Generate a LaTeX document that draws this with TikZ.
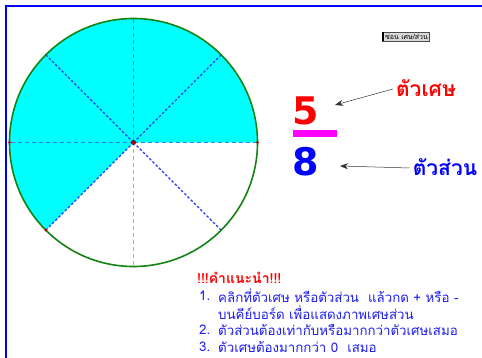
\documentclass[tikz,border=0pt]{standalone}
\usepackage{fontspec}
\setmainfont{DejaVu Sans}
\newfontfamily\thai[Script=Thai]{Loma}
\usetikzlibrary{arrows.meta,calc}
\definecolor{frameblue}{RGB}{0,0,255}
\definecolor{circgreen}{RGB}{20,130,20}
\definecolor{fillcyan}{RGB}{0,255,255}
\definecolor{dashA}{RGB}{40,130,255}
\definecolor{dashB}{RGB}{40,50,255}
\definecolor{dashC}{RGB}{165,165,255}
\definecolor{txtblue}{RGB}{30,30,240}
\definecolor{dotred}{RGB}{190,0,0}
\definecolor{barmag}{RGB}{255,0,255}
\definecolor{numred}{RGB}{255,0,0}
\definecolor{numblue}{RGB}{0,0,255}
\tikzset{
  radA/.style={dashA, line width=1.5pt, dash pattern=on 4pt off 3pt},
  radB/.style={dashB, line width=1.3pt, dash pattern=on 2.5pt off 2pt},
  radC/.style={dashC, line width=1.6pt, dash pattern=on 4pt off 3pt},
  enddot/.style={circle, fill=dotred, inner sep=0pt, minimum size=3pt},
  thlabel/.style={font=\thai\fontsize{21}{24}\selectfont\bfseries, inner sep=0pt},
  instr/.style={font=\thai\fontsize{13.3}{16}\selectfont, text=txtblue, inner sep=0pt, anchor=west},
  pointer/.style={-{Stealth[length=8pt,width=6pt]}, line width=0.5pt, black!80},
}
\begin{document}
\begin{tikzpicture}[x=1pt,y=1pt]
\useasboundingbox (0,0) rectangle (482,358);
\fill[white] (0,0) rectangle (482,358);
% frame
\draw[frameblue, line width=2.5pt] (6,0) -- (6,352) -- (482,352);
% circle
\coordinate (c) at (133.5,215.5);
\fill[fillcyan] (c) -- ++(0:124) arc[start angle=0, end angle=225, radius=124] -- cycle;
\draw[radA] (c) -- ++(0:124);
\draw[radA] (c) -- ++(90:124);
\draw[radA] (c) -- ++(180:124);
\draw[radB] (c) -- ++(45:124);
\draw[radB] (c) -- ++(135:124);
\draw[radB] (c) -- ++(225:124);
\draw[radB] (c) -- ++(315:124);
\draw[radC] (c) -- ++(270:124);
\draw[circgreen, line width=1.6pt] (c) circle[radius=124];
\node[enddot] (d0) at ($(c)+(0:124)$) {};
\node[enddot] (d1) at ($(c)+(180:124)$) {};
\node[enddot] (d2) at ($(c)+(225:124)$) {};
\node[enddot, draw=black, line width=0.4pt, minimum size=4pt] (d3) at (c) {};
% button
\node[draw=black!70, fill=black!15, line width=0.6pt, minimum width=47pt, minimum height=9pt, inner sep=0pt,
  font=\thai\fontsize{7}{7}\selectfont] (btn) at (405.5,321.5) {\hspace*{2pt}ซ่อน เศษ/ส่วน};
\fill[black] (btn.north west) rectangle ([xshift=2.5pt]btn.south west);
% fraction
\node[font=\fontsize{38}{40}\selectfont\bfseries, text=numred, inner sep=0pt] (num) at (305.5,247) {5};
\fill[barmag] (293,228) rectangle (337,221);
\node[font=\fontsize{38}{40}\selectfont\bfseries, text=numblue, inner sep=0pt] (den) at (305.5,196.5) {8};
% labels
\node[thlabel, text=numred] (lnum) at (426,270) {ตัวเศษ};
\node[thlabel, text=numblue] (lden) at (445,191) {ตัวส่วน};
\coordinate (tnum) at (335,253);
\coordinate (tden) at (340,192);
\draw[pointer] (lnum.west) ++(-3,-1) -- (tnum);
\draw[pointer] (lden.west) ++(-3,-1) -- (tden);
% instructions
\node[font=\thai\fontsize{14}{16}\selectfont\bfseries, text=numred, inner sep=0pt, anchor=west] (title) at (197,80) {!!!คำแนะนำ!!!};
\node[instr] (n1) at (199,62) {1.};
\node[instr] (t1) at (218,62) {คลิกที่ตัวเศษ หรือตัวส่วน \ แล้วกด + หรือ -};
\node[instr] (t2) at (218,45) {บนคีย์บอร์ด เพื่อแสดงภาพเศษส่วน};
\node[instr] (n3) at (199,28) {2.};
\node[instr] (t3) at (218,28) {ตัวส่วนต้องเท่ากับหรือมากกว่าตัวเศษเสมอ};
\node[instr] (n4) at (199,11) {3.};
\node[instr] (t4) at (218,11) {ตัวเศษต้องมากกว่า 0 \ เสมอ};
\end{tikzpicture}
\end{document}
